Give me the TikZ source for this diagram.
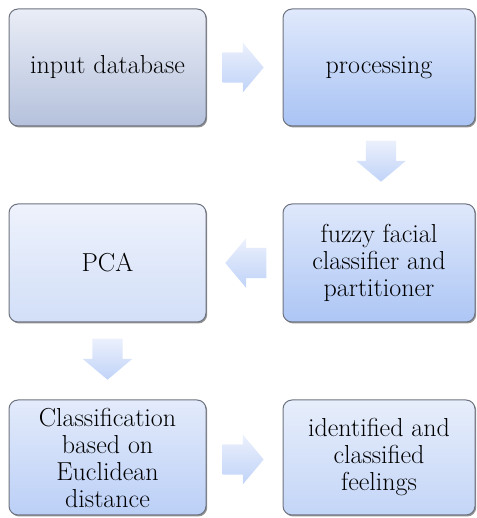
\documentclass[tikz,border=0pt]{standalone}
\usetikzlibrary{calc, shadows, shapes.arrows}

\definecolor{edgegray}{HTML}{6E7380}
\definecolor{arrowtop}{HTML}{EBF0FC}
\definecolor{arrowbot}{HTML}{C0D3F8}
% top / bottom fills of the stages
\definecolor{inputtop}{HTML}{E9EDF6}   \definecolor{inputbot}{HTML}{B5C1DC}
\definecolor{proctop}{HTML}{E0E9FC}    \definecolor{procbot}{HTML}{A9C3F4}
\definecolor{pcatop}{HTML}{EEF2FC}     \definecolor{pcabot}{HTML}{D2DFF8}
\definecolor{fuzzytop}{HTML}{DFE8FB}   \definecolor{fuzzybot}{HTML}{ADC6F5}
\definecolor{classiftop}{HTML}{E3EBFB} \definecolor{classifbot}{HTML}{BBCFF6}
\definecolor{identtop}{HTML}{E7EEFB}   \definecolor{identbot}{HTML}{C3D5F7}

\tikzset{
  stage/.style={rounded corners=9pt, draw=edgegray, line width=1pt,
    align=center, inner sep=2pt, font=\fontsize{26}{27}\selectfont,
    drop shadow={shadow xshift=1.2pt, shadow yshift=-1.5pt, fill=black!60, opacity=0.7}},
  flow/.style={single arrow, draw=none, anchor=tail,
    minimum height=41pt,
    single arrow head extend=9.5pt, single arrow tip angle=100,
    top color=arrowtop, bottom color=arrowbot},
  flowh/.style={flow, inner xsep=0pt, inner ysep=15pt},
  flowv/.style={flow, inner xsep=15pt, inner ysep=0pt, shape border rotate=270}
}

\begin{document}
\begin{tikzpicture}[x=1pt, y=1pt]
  \useasboundingbox (0,0) rectangle (476,518);
  % stages, row by row
  \node[stage, minimum width=197pt, minimum height=117pt,
        top color=inputtop, bottom color=inputbot]
        (input) at (107.5,450.5) {input database};
  \node[stage, minimum width=192pt, minimum height=117pt,
        top color=proctop, bottom color=procbot]
        (proc) at (379,450.5) {processing};
  \node[stage, minimum width=197pt, minimum height=118pt,
        top color=pcatop, bottom color=pcabot]
        (pca) at (107.5,255) {PCA};
  \node[stage, minimum width=192pt, minimum height=118pt,
        top color=fuzzytop, bottom color=fuzzybot]
        (fuzzy) at (379,255) {fuzzy facial\\classifier and\\partitioner};
  \node[stage, minimum width=197pt, minimum height=115pt,
        top color=classiftop, bottom color=classifbot]
        (classif) at (107.5,60.5) {Classification\\based on\\Euclidean\\distance};
  \node[stage, minimum width=192pt, minimum height=115pt,
        top color=identtop, bottom color=identbot]
        (ident) at (379,60.5) {identified and\\classified\\feelings};

  % block arrows between the stages
  \node[flowh] (a1) at ($(input.east)+(16,0)$) {};
  \node[flowv] (a2) at ($(proc.south)+(2,-14)$) {};
  \node[flowh, shape border rotate=180] (a3) at ($(fuzzy.west)+(-16,0)$) {};
  \node[flowv] (a4) at ($(pca.south)+(0,-16)$) {};
  \node[flowh] (a5) at ($(classif.east)+(16,-2)$) {};
\end{tikzpicture}
\end{document}
